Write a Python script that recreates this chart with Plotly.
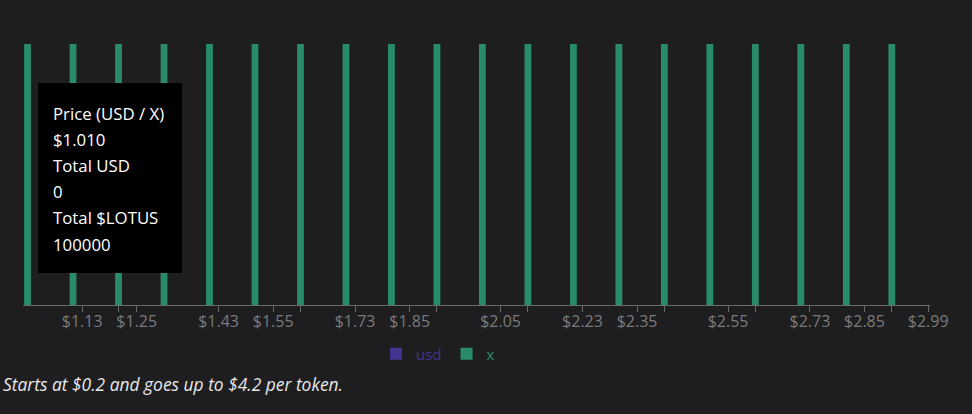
import plotly.graph_objects as go

# ---- data ----
prices = [1.01, 1.11, 1.21, 1.31, 1.41, 1.51, 1.61, 1.71, 1.81, 1.91,
          2.01, 2.11, 2.21, 2.31, 2.41, 2.51, 2.61, 2.71, 2.81, 2.91]
usd_values = [0, 0, 0, 0, 0, 0, 0, 0, 0, 0,
              0, 0, 0, 0, 0, 0, 0, 0, 0, 0]
x_values = [100000, 100000, 100000, 100000, 100000, 100000, 100000, 100000, 100000, 100000,
            100000, 100000, 100000, 100000, 100000, 100000, 100000, 100000, 100000, 100000]
tick_vals = [1.13, 1.21, 1.25, 1.43, 1.55, 1.61, 1.73, 1.85, 1.91, 2.05,
             2.11, 2.23, 2.35, 2.41, 2.55, 2.61, 2.73, 2.85, 2.91, 2.99]
tick_text = ["$1.13", "", "$1.25", "$1.43", "$1.55", "", "$1.73", "$1.85", "", "$2.05",
             "", "$2.23", "$2.35", "", "$2.55", "", "$2.73", "$2.85", "", "$2.99"]
tooltip_lines = ["Price (USD / X)", "$1.010", "Total USD", "0", "Total $LOTUS", "100000"]
caption = "Starts at $0.2 and goes up to $4.2 per token."

USD_COLOR = "#42338e"
X_COLOR = "#288c6a"
BG = "#1e1e20"
FONT = "Open Sans"

W, H = 972, 414
L, R, T, B = 23, 42, 44, 109
PW = W - L - R
PH = H - T - B

def px(x):
    return (x - L) / PW

def py(y):
    return (H - B - y) / PH

fig = go.Figure()
fig.add_trace(go.Bar(x=prices, y=usd_values, name=f"<span style='color:{USD_COLOR}'>usd</span>",
                     marker_color=USD_COLOR, width=0.015, marker_line_width=0))
fig.add_trace(go.Bar(x=prices, y=x_values, name=f"<span style='color:{X_COLOR}'>x</span>",
                     marker_color=X_COLOR, width=0.015, marker_line_width=0))

fig.update_layout(
    width=W, height=H,
    margin=dict(l=L, r=R, t=T, b=B, autoexpand=False),
    paper_bgcolor=BG, plot_bgcolor=BG,
    barmode="overlay",
    font=dict(family=FONT, color="#ffffff", size=14),
    showlegend=True,
    legend=dict(orientation="h", xref="container", yref="container",
                x=376 / W, xanchor="left", y=1 - 354 / H, yanchor="middle",
                font=dict(size=15), bgcolor="rgba(0,0,0,0)", itemclick=False),
    xaxis=dict(range=[1.0, 2.994], showgrid=False, zeroline=False, automargin=False,
               showline=True, linecolor="#6b6b6b", linewidth=1,
               tickmode="array", tickvals=tick_vals, ticktext=tick_text,
               ticks="outside", ticklen=6, tickcolor="#6b6b6b", tickwidth=1,
               ticklabelstandoff=-4,
               tickfont=dict(size=16, color="#7a7a7a", family=FONT)),
    yaxis=dict(range=[0, 100000], visible=False, showgrid=False, zeroline=False),
)

# tooltip box
fig.add_shape(type="rect", xref="paper", yref="paper",
              x0=px(38), x1=px(182), y0=py(273), y1=py(83),
              fillcolor="#000000", line_width=0, layer="above")
for i, line in enumerate(tooltip_lines):
    fig.add_annotation(xref="paper", yref="paper", x=px(51), y=py(113 + 26.2 * i),
                       xanchor="left", yanchor="middle", text=line, showarrow=False,
                       font=dict(size=16.8, color="#ffffff", family=FONT))

fig.add_annotation(xref="paper", yref="paper", x=px(1), y=py(384),
                   xanchor="left", yanchor="middle", text=f"<i>{caption}</i>", showarrow=False,
                   font=dict(size=17.4, color="#e8e8e8", family=FONT))

fig.write_html("out.html", post_script="document.body.style.margin='0';",
               config={"displayModeBar": False})
